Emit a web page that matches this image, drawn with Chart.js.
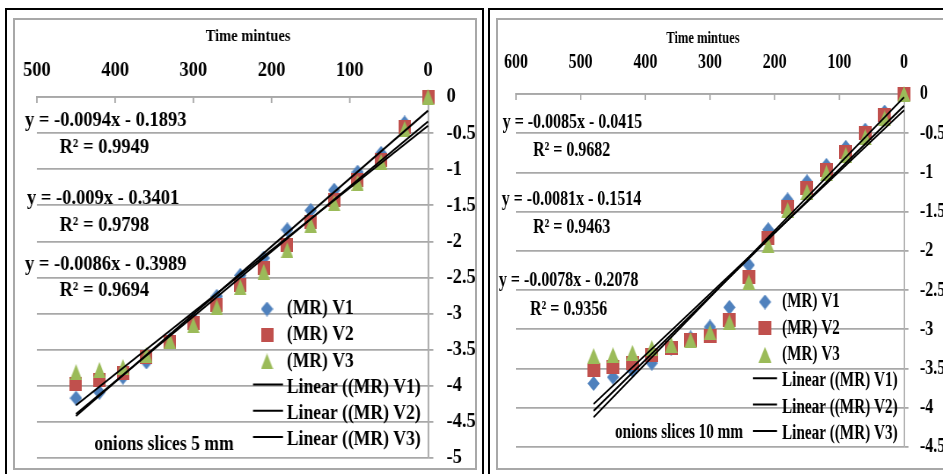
<!DOCTYPE html>
<html>
<head>
<meta charset="utf-8">
<script src="https://cdn.jsdelivr.net/npm/chart.js@4.4.1/dist/chart.umd.min.js"></script>
<style>
  html, body { margin: 0; padding: 0; background: #fff; width: 943px; height: 474px; overflow: hidden; position: relative; }
  .panel { position: absolute; transform-origin: 0 0; }
  .panel canvas { display: block; }
  .frame { position: absolute; box-sizing: border-box; pointer-events: none; }
  .outer { border: 2px solid #000; }
  .inner { border: 2px solid #a8a8a8; }
</style>
</head>
<body>
<div class="panel" id="p5" style="left:14px; top:19px; width:525px; height:450px; transform:scaleX(0.88);"><canvas id="c5" width="525" height="450"></canvas></div>
<div class="panel" id="p10" style="left:497px; top:19px; width:620px; height:450px; transform:scaleX(0.76);"><canvas id="c10" width="620" height="450"></canvas></div>

<div class="frame outer" style="left:5px; top:8px; width:479px; height:480px;"></div>
<div class="frame inner" style="left:13px; top:18px; width:464px; height:452px;"></div>
<div class="frame outer" style="left:488px; top:8px; width:500px; height:480px;"></div>
<div class="frame inner" style="left:496px; top:18px; width:500px; height:452px;"></div>

<script>
// ---- data ----------------------------------------------------------------
const seriesNames = ['(MR) V1', '(MR) V2', '(MR) V3'];

// onion slices 5 mm: ln(MR) against drying time (minutes)
const time5 = [0, 30, 60, 90, 120, 150, 180, 210, 240, 270, 300, 330, 360, 390, 420, 450];
const mr5V1 = [0, -0.36, -0.78, -1.04, -1.29, -1.57, -1.84, -2.23, -2.47, -2.76, -3.07, -3.36, -3.67, -3.88, -4.09, -4.17];
const mr5V2 = [0, -0.42, -0.87, -1.15, -1.43, -1.73, -2.05, -2.37, -2.60, -2.88, -3.13, -3.39, -3.60, -3.82, -3.92, -3.97];
const mr5V3 = [0, -0.44, -0.90, -1.19, -1.47, -1.77, -2.12, -2.42, -2.63, -2.91, -3.16, -3.38, -3.57, -3.74, -3.78, -3.81];
const fitSlope5 = [-0.0094, -0.009, -0.0086];
const fitIntercept5 = [-0.1893, -0.3401, -0.3989];
const fitR2_5 = [0.9949, 0.9798, 0.9694];

// onion slices 10 mm
const time10 = [0, 30, 60, 90, 120, 150, 180, 210, 240, 270, 300, 330, 360, 390, 420, 450, 480];
const mr10V1 = [0, -0.23, -0.46, -0.68, -0.91, -1.12, -1.35, -1.73, -2.18, -2.72, -2.97, -3.11, -3.24, -3.43, -3.52, -3.61, -3.69];
const mr10V2 = [0, -0.27, -0.50, -0.74, -0.97, -1.20, -1.44, -1.84, -2.33, -2.88, -3.09, -3.14, -3.24, -3.33, -3.43, -3.48, -3.52];
const mr10V3 = [0, -0.31, -0.55, -0.78, -1.01, -1.25, -1.48, -1.93, -2.40, -2.91, -3.04, -3.14, -3.20, -3.24, -3.30, -3.33, -3.34];
const fitSlope10 = [-0.0085, -0.0081, -0.0078];
const fitIntercept10 = [-0.0415, -0.1514, -0.2078];
const fitR2_10 = [0.9682, 0.9463, 0.9356];

// ---- styling -------------------------------------------------------------
const FONT = '"Liberation Serif", "Times New Roman", Times, serif';
const GRID = '#a8a8a8';
const COLORS = ['#4f81bd', '#c0504d', '#9bbb59'];
const SHAPES = ['diamond', 'square', 'triangle'];
// marker size on screen (width, height)
const MARKER_SIZE = { diamond: [12.3, 15], square: [12.6, 13.6], triangle: [12.6, 16] };

// marker sprites; each panel is squeezed horizontally by `squeeze`,
// so sprites are pre-widened to keep their on-screen size
function makeMarker(shape, color, squeeze) {
  const [sw, sh] = MARKER_SIZE[shape];
  const w = Math.round(sw / squeeze), h = Math.round(sh);
  const c = document.createElement('canvas');
  c.width = w; c.height = h;
  const g = c.getContext('2d');
  g.fillStyle = color;
  g.beginPath();
  if (shape === 'square') {
    g.rect(0, 0, w, h);
  } else if (shape === 'diamond') {
    g.moveTo(w / 2, 0); g.lineTo(w, h / 2); g.lineTo(w / 2, h); g.lineTo(0, h / 2); g.closePath();
  } else {
    g.moveTo(w / 2, 0); g.lineTo(w, h); g.lineTo(0, h); g.closePath();
  }
  g.fill();
  return c;
}

function equationText(m, b) {
  return 'y = ' + String(m) + 'x ' + (b < 0 ? '- ' : '+ ') + String(Math.abs(b));
}

// decorations: inner tick marks, axis title, fit equations, legend, caption
function makeDecor(L, fits) {
  return {
    id: 'decor',
    beforeDatasetsDraw(chart) {
      const ctx = chart.ctx, xs = chart.scales.x, top = chart.chartArea.top;
      ctx.save();
      ctx.strokeStyle = GRID; ctx.lineWidth = 1.8;
      xs.ticks.forEach(t => {
        const px = xs.getPixelForValue(t.value);
        ctx.beginPath(); ctx.moveTo(px, top); ctx.lineTo(px, top + 6); ctx.stroke();
      });
      ctx.restore();
    },
    afterDraw(chart) {
      const ctx = chart.ctx;
      ctx.save();
      ctx.fillStyle = '#000';
      ctx.textBaseline = 'middle';

      ctx.font = 'bold 16.5px ' + FONT;
      ctx.textAlign = 'center';
      ctx.fillText('Time mintues', L.title[0], L.title[1]);

      ctx.textAlign = 'left';
      ctx.font = 'bold 21px ' + FONT;
      fits.slope.forEach((m, i) => {
        ctx.fillText(equationText(m, fits.intercept[i]), L.eq[i][0], L.eq[i][1]);
        ctx.fillText('R\u00B2 = ' + fits.r2[i].toFixed(4), L.r2[i][0], L.r2[i][1]);
      });

      // legend
      ctx.font = 'bold 20px ' + FONT;
      chart.data.datasets.forEach((d, i) => {
        const y = L.legend.y0 + i * L.legend.step;
        if (i < 3) {
          const img = d.pointStyle;
          ctx.drawImage(img, L.legend.marker - img.width / 2, y - img.height / 2);
        } else {
          ctx.strokeStyle = d.borderColor; ctx.lineWidth = 2;
          ctx.beginPath(); ctx.moveTo(L.legend.line[0], y - 3); ctx.lineTo(L.legend.line[1], y - 3); ctx.stroke();
        }
        ctx.fillStyle = '#000';
        ctx.fillText(d.label, L.legend.text, y);
      });

      ctx.fillText(L.caption, L.captionAt[0], L.captionAt[1]);
      ctx.restore();
    }
  };
}

function buildChart(canvasId, times, series, fits, axis, L) {
  const datasets = [];
  series.forEach((vals, i) => {
    datasets.push({
      label: seriesNames[i],
      data: times.map((t, k) => ({ x: t, y: vals[k] })),
      pointStyle: makeMarker(SHAPES[i], COLORS[i], L.squeeze),
      pointRadius: 7, pointHoverRadius: 7,
      backgroundColor: COLORS[i], borderColor: COLORS[i], pointBorderWidth: 0,
      showLine: false, order: 3 - i, clip: false
    });
  });
  fits.slope.forEach((m, i) => {
    const b = fits.intercept[i];
    const xEnd = times[times.length - 1];
    datasets.push({
      label: 'Linear (' + seriesNames[i] + ')',
      data: [{ x: 0, y: b }, { x: xEnd, y: m * xEnd + b }],
      showLine: true, borderColor: '#000', backgroundColor: '#000',
      borderWidth: 2, pointRadius: 0, order: -1, clip: false
    });
  });

  const tickFont = { family: FONT, size: 21, weight: 'bold' };
  return new Chart(document.getElementById(canvasId), {
    type: 'scatter',
    data: { datasets },
    options: {
      responsive: false,
      animation: false,
      devicePixelRatio: 1,
      events: [],
      layout: { autoPadding: false, padding: L.padding },
      plugins: { legend: { display: false }, tooltip: { enabled: false }, title: { display: false } },
      scales: {
        x: {
          type: 'linear', position: 'top', reverse: true,
          min: 0, max: axis.xMax,
          ticks: { stepSize: axis.xStep, padding: L.xPad, color: '#000', font: tickFont, maxRotation: 0, autoSkip: false, callback: v => String(v) },
          grid: { display: false, drawTicks: false },
          border: { display: true, color: GRID, width: 1.8 },
          afterFit(s) { s.height = L.xAxisH; s.paddingLeft = 0; s.paddingRight = 0; }
        },
        y: {
          type: 'linear', position: 'right',
          min: axis.yMin, max: 0,
          ticks: { stepSize: axis.yStep, padding: 15, color: '#000', font: tickFont, autoSkip: false, callback: v => String(Math.round(v * 10) / 10) },
          grid: { color: GRID, lineWidth: 1.8, drawTicks: true, tickLength: 6 },
          border: { display: true, color: GRID, width: 1.8 },
          afterFit(s) { s.width = L.yAxisW; s.paddingTop = 0; s.paddingBottom = 0; }
        }
      }
    },
    plugins: [makeDecor(L, fits)]
  });
}

buildChart('c5', time5, [mr5V1, mr5V2, mr5V3],
  { slope: fitSlope5, intercept: fitIntercept5, r2: fitR2_5 },
  { xMax: 500, xStep: 100, yMin: -5, yStep: 0.5 },
  {
    squeeze: 0.88,
    padding: { left: 26, right: 0, top: 0, bottom: 11 },
    xAxisH: 78, yAxisW: 54.5, xPad: 14,
    title: [266, 18],
    eq: [[12.5, 102], [14.8, 180], [12.5, 245.5]],
    r2: [[51.7, 128.5], [51.7, 207], [51.7, 272]],
    legend: { marker: 287.5, line: [271.6, 305.7], text: 310, y0: 290, step: 26.2 },
    caption: 'onions slices 5 mm', captionAt: [91.2, 426]
  });

buildChart('c10', time10, [mr10V1, mr10V2, mr10V3],
  { slope: fitSlope10, intercept: fitIntercept10, r2: fitR2_10 },
  { xMax: 600, xStep: 100, yMin: -4.5, yStep: 0.5 },
  {
    squeeze: 0.76,
    padding: { left: 25, right: 0, top: 0, bottom: 22 },
    xAxisH: 75, yAxisW: 84.5, xPad: 19,
    title: [271, 19.5],
    eq: [[7.5, 103.5], [6.2, 180.5], [2.6, 261.5]],
    r2: [[47.4, 132], [47.4, 208.5], [43.4, 290.5]],
    legend: { marker: 352.6, line: [336.8, 368.4], text: 375, y0: 283, step: 26.4 },
    caption: 'onions slices 10 mm', captionAt: [155.3, 413.5]
  });
</script>
</body>
</html>
